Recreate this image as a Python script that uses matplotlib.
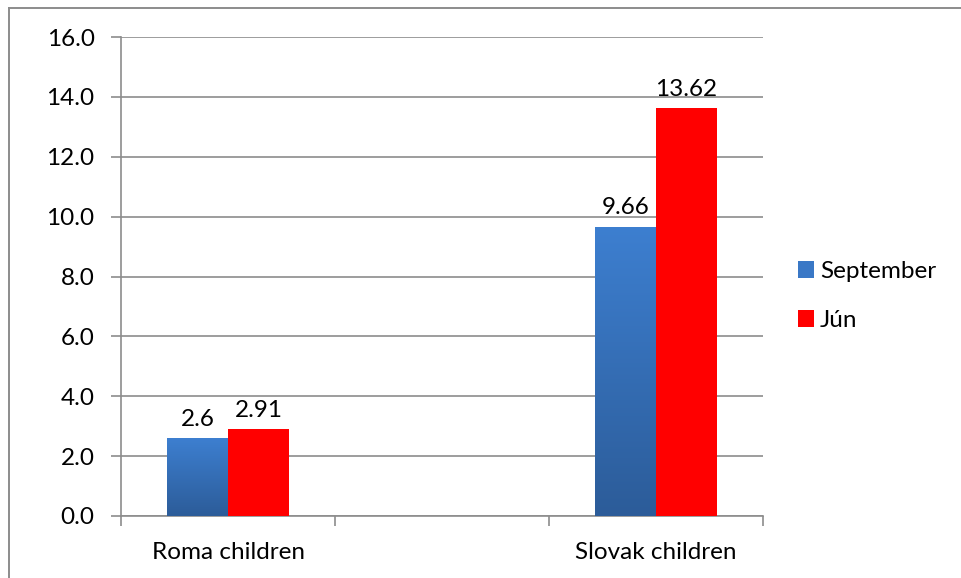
import numpy as np
import matplotlib
matplotlib.use("Agg")
import matplotlib.pyplot as plt
from matplotlib.lines import Line2D
from matplotlib.colors import LinearSegmentedColormap

categories = ["Roma children", "", "Slovak children"]
september = [2.6, np.nan, 9.66]
jun = [2.91, np.nan, 13.62]
series_names = ["September", "Jún"]
yticks = [0, 2, 4, 6, 8, 10, 12, 14, 16]

plt.rcParams['font.family'] = ['Lato', 'DejaVu Sans']
FS = 17.5

fig = plt.figure(figsize=(9.61, 5.78), dpi=100)
ax = fig.add_axes([121/961, 1-516/578, (763-121)/961, (516-37)/578])

x = np.arange(len(categories))
w = 0.285
grid_c = '#8c8c8c'

ax.set_xlim(-0.5, len(categories)-0.5)
ax.set_ylim(0, 16)

bars1 = ax.bar(x - w/2, september, w, color='#3a78c6', label=series_names[0], zorder=3)
bars2 = ax.bar(x + w/2, jun, w, color='#ff0000', label=series_names[1], zorder=3)

grad = np.linspace(0, 1, 256).reshape(-1, 1)
cmap = LinearSegmentedColormap.from_list('b', ['#2c5c99', '#3d7fd0'])
for b in bars1:
    h = b.get_height()
    if np.isnan(h):
        continue
    x0 = b.get_x(); bw = b.get_width()
    im = ax.imshow(grad, extent=[x0, x0 + bw, 0, h], origin='lower', cmap=cmap,
                   aspect='auto', zorder=3.5)
    im.set_clip_path(b)

for bars in (bars1, bars2):
    for b in bars:
        h = b.get_height()
        if np.isnan(h):
            continue
        ax.annotate(f"{h:g}", (b.get_x() + b.get_width()/2, h), xytext=(0, 6),
                    textcoords='offset points', ha='center', va='bottom', fontsize=FS,
                    color='black')

ax.set_yticks(yticks)
ax.set_yticklabels([f"{v:.1f}" for v in yticks], fontsize=FS)
ax.yaxis.grid(True, color=grid_c, linewidth=1.2, zorder=0)
ax.set_axisbelow(True)

ax.set_xticks(x)
ax.set_xticklabels(categories, fontsize=FS)
ax.set_xticks(np.arange(len(categories)+1) - 0.5, minor=True)
ax.tick_params(axis='x', which='major', length=0, pad=19)
ax.tick_params(axis='x', which='minor', length=7, width=1.2, color=grid_c)
ax.tick_params(axis='y', length=7, width=1.2, color=grid_c, pad=12)

for s in ('top', 'right'):
    ax.spines[s].set_visible(False)
for s in ('left', 'bottom'):
    ax.spines[s].set_color(grid_c)
    ax.spines[s].set_linewidth(1.2)

leg = fig.legend(handles=[bars1, bars2], labels=series_names, loc='center left',
                 bbox_to_anchor=(776/961, 1-296/578), frameon=False, fontsize=FS,
                 handlelength=0.65, handleheight=0.65, handletextpad=0.25, labelspacing=1.15)

fig.lines.append(Line2D([9/961, 9/961], [0, 1-7.5/578], transform=fig.transFigure,
                        color='#8c8c8c', linewidth=1.4))
fig.lines.append(Line2D([9/961, 1], [1-7.5/578, 1-7.5/578], transform=fig.transFigure,
                        color='#8c8c8c', linewidth=1.4))

fig.savefig("out.png", dpi=100)
